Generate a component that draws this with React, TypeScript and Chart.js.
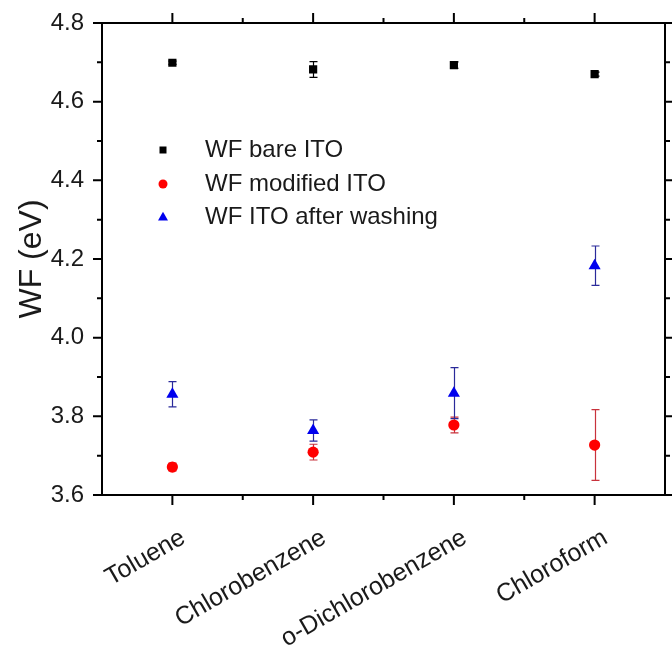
import React, { useEffect, useRef } from "react";
import { Chart, registerables } from "chart.js";

Chart.register(...registerables);

const categories = ["Toluene", "Chlorobenzene", "o-Dichlorobenzene", "Chloroform"];
const bareITO = [4.699, 4.682, 4.693, 4.670];
const bareErr = [0.004, 0.02, 0.008, 0.005];
const modifiedITO = [3.671, 3.709, 3.778, 3.727];
const modifiedErr = [0.01, 0.02, 0.02, 0.09];
const washedITO = [3.856, 3.764, 3.859, 4.183];
const washedErr = [0.032, 0.027, 0.065, 0.05];
const yMajorTicks = [3.6, 3.8, 4.0, 4.2, 4.4, 4.6, 4.8];
const yMinorTicks = [3.7, 3.9, 4.1, 4.3, 4.5, 4.7];
const legendLabels = ["WF bare ITO", "WF modified ITO", "WF ITO after washing"];
const yTitle = "WF (eV)";

const FONT = "'Liberation Sans', Arial, sans-serif";

function drawMarker(ctx: CanvasRenderingContext2D, style: string, x: number, y: number, s: number, color: string) {
  ctx.save();
  ctx.fillStyle = color;
  ctx.beginPath();
  if (style === "rect") {
    ctx.rect(x - s / 2, y - s / 2, s, s);
  } else if (style === "circle") {
    ctx.arc(x, y, s / 2, 0, Math.PI * 2);
  } else {
    const h = s * 0.87;
    ctx.moveTo(x, y - h * 0.6);
    ctx.lineTo(x + s / 2, y + h * 0.4);
    ctx.lineTo(x - s / 2, y + h * 0.4);
    ctx.closePath();
  }
  ctx.fill();
  ctx.restore();
}

const decorPlugin = {
  id: "decor",
  beforeDatasetsDraw(chart: any) {
    const ctx: CanvasRenderingContext2D = chart.ctx;
    const xs = chart.scales.x;
    const ys = chart.scales.y;
    chart.data.datasets.forEach((ds: any) => {
      const errs: number[] = ds.errors;
      ctx.save();
      ctx.strokeStyle = ds.errorColor;
      ctx.lineWidth = 1.2;
      ds.data.forEach((v: number, i: number) => {
        const x = Math.round(xs.getPixelForValue(i)) + 0.5;
        const yt = ys.getPixelForValue(v + errs[i]);
        const yb = ys.getPixelForValue(v - errs[i]);
        ctx.beginPath();
        ctx.moveTo(x, yt);
        ctx.lineTo(x, yb);
        ctx.moveTo(x - 4, yt);
        ctx.lineTo(x + 4, yt);
        ctx.moveTo(x - 4, yb);
        ctx.lineTo(x + 4, yb);
        ctx.stroke();
      });
      ctx.restore();
    });
  },
  afterDraw(chart: any) {
    const ctx: CanvasRenderingContext2D = chart.ctx;
    const { left, right, top, bottom } = chart.chartArea;
    const xs = chart.scales.x;
    const ys = chart.scales.y;
    ctx.save();
    ctx.strokeStyle = "#000";
    ctx.lineWidth = 2;
    ctx.strokeRect(left, top, right - left, bottom - top);

    // y ticks (left & right, outward)
    ctx.beginPath();
    yMajorTicks.forEach((v) => {
      const y = ys.getPixelForValue(v);
      ctx.moveTo(left - 9, y);
      ctx.lineTo(left, y);
      ctx.moveTo(right, y);
      ctx.lineTo(right + 9, y);
    });
    yMinorTicks.forEach((v) => {
      const y = ys.getPixelForValue(v);
      ctx.moveTo(left - 5, y);
      ctx.lineTo(left, y);
      ctx.moveTo(right, y);
      ctx.lineTo(right + 5, y);
    });
    // x ticks (top & bottom, outward)
    categories.forEach((_, i) => {
      const x = xs.getPixelForValue(i);
      ctx.moveTo(x, bottom);
      ctx.lineTo(x, bottom + 10);
      ctx.moveTo(x, top);
      ctx.lineTo(x, top - 10);
      if (i < categories.length - 1) {
        const xm = (x + xs.getPixelForValue(i + 1)) / 2;
        ctx.moveTo(xm, bottom);
        ctx.lineTo(xm, bottom + 5);
        ctx.moveTo(xm, top);
        ctx.lineTo(xm, top - 5);
      }
    });
    ctx.stroke();

    // y tick labels
    ctx.fillStyle = "#1a1a1a";
    ctx.font = `24px ${FONT}`;
    ctx.textAlign = "right";
    ctx.textBaseline = "middle";
    yMajorTicks.forEach((v) => {
      ctx.fillText(v.toFixed(1), left - 18, ys.getPixelForValue(v));
    });

    // x tick labels (rotated)
    ctx.font = `25px ${FONT}`;
    categories.forEach((c, i) => {
      const x = xs.getPixelForValue(i);
      ctx.save();
      ctx.translate(x + 11, bottom + 41);
      ctx.rotate(-Math.PI / 6);
      ctx.textAlign = "right";
      ctx.textBaseline = "middle";
      ctx.fillText(c, 0, 0);
      ctx.restore();
    });

    // y title
    ctx.save();
    ctx.font = `32px ${FONT}`;
    ctx.translate(32, (top + bottom) / 2);
    ctx.rotate(-Math.PI / 2);
    ctx.textAlign = "center";
    ctx.textBaseline = "middle";
    ctx.fillText(yTitle, 0, 0);
    ctx.restore();

    // legend
    const styles = ["rect", "circle", "triangle"];
    const colors = ["#000000", "#ff0000", "#0000ee"];
    const sizes = [7, 9, 10];
    const rows = [150, 184, 217];
    ctx.font = `24px ${FONT}`;
    ctx.textAlign = "left";
    ctx.textBaseline = "middle";
    legendLabels.forEach((lab, i) => {
      drawMarker(ctx, styles[i], 163, rows[i], sizes[i], colors[i]);
      ctx.fillStyle = "#1a1a1a";
      ctx.fillText(lab, 205, rows[i]);
    });
    ctx.restore();
  },
};

export default function App() {
  const ref = useRef<HTMLCanvasElement | null>(null);
  useEffect(() => {
    document.body.style.margin = "0";
    const canvas = ref.current!;
    const chart = new Chart(canvas, {
      type: "line",
      data: {
        labels: categories,
        datasets: [
          {
            label: legendLabels[0],
            data: bareITO,
            errors: bareErr,
            errorColor: "#000000",
            showLine: false,
            pointStyle: "rect",
            pointRadius: 5.8,
            backgroundColor: "#000000",
            borderColor: "#000000",
            borderWidth: 0,
          } as any,
          {
            label: legendLabels[1],
            data: modifiedITO,
            errors: modifiedErr,
            errorColor: "#c8323c",
            showLine: false,
            pointStyle: "circle",
            pointRadius: 5.6,
            backgroundColor: "#ff0000",
            borderColor: "#ff0000",
            borderWidth: 0,
          } as any,
          {
            label: legendLabels[2],
            data: washedITO,
            errors: washedErr,
            errorColor: "#2a2a9a",
            showLine: false,
            pointStyle: "triangle",
            pointRadius: 7,
            backgroundColor: "#0000ee",
            borderColor: "#0000ee",
            borderWidth: 0,
          } as any,
        ],
      },
      options: {
        responsive: false,
        animation: false,
        layout: { padding: { left: 102, top: 23, right: 2, bottom: 157 } },
        plugins: { legend: { display: false }, tooltip: { enabled: false } },
        scales: {
          x: { type: "category", display: false, offset: true },
          y: { type: "linear", display: false, min: 3.6, max: 4.8 },
        },
      },
      plugins: [decorPlugin],
    });
    return () => chart.destroy();
  }, []);
  return (
    <div style={{ width: 672, height: 652, background: "#fff" }}>
      <canvas ref={ref} width={672} height={652} style={{ display: "block" }} />
    </div>
  );
}
